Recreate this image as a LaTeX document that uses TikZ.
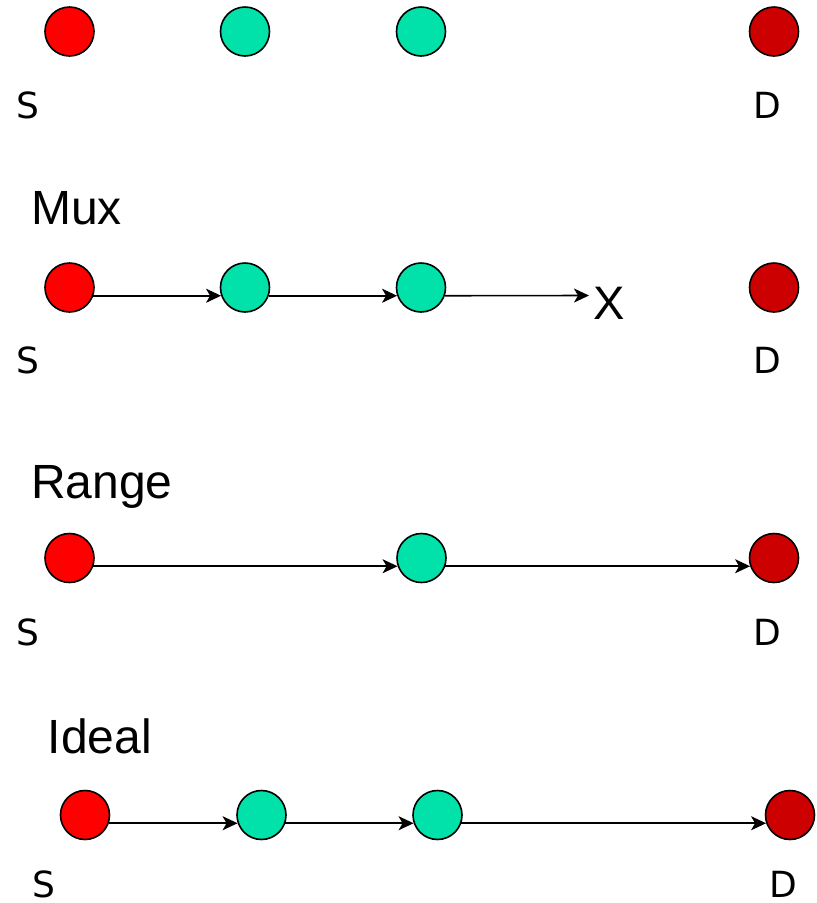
\documentclass[tikz,border=0pt]{standalone}
\usepackage{fontspec}
\setmainfont{Liberation Sans}
\newfontfamily\labelfont{DejaVu Sans}
\usetikzlibrary{arrows.meta}
\definecolor{srcred}{HTML}{FF0000}
\definecolor{relay}{HTML}{00E2AA}
\definecolor{dstred}{HTML}{CC0000}
\tikzset{
  hop/.style={circle, draw=black, line width=1.6pt, minimum size=49pt, inner sep=0pt},
  src/.style={hop, fill=srcred},
  mid/.style={hop, fill=relay},
  dst/.style={hop, fill=dstred},
  endlabel/.style={anchor=base west, inner sep=0pt, text depth=0pt, font=\labelfont\fontsize{36}{40}\selectfont},
  title/.style={anchor=base west, inner sep=0pt, font=\fontsize{48}{54}\selectfont},
  link/.style={line width=1.6pt, -{Stealth[length=15pt, width=14pt, inset=4pt]}}
}
\begin{document}
\begin{tikzpicture}[x=1pt, y=-1pt]
\useasboundingbox (0,0) rectangle (817,903);

% no links
\node[src] (a1) at (69.5,31.5) {};
\node[mid] (a2) at (245,31.5) {};
\node[mid] (a3) at (421,31.5) {};
\node[dst] (a4) at (774,31.5) {};
\node[endlabel] (as) at (16,118) {S};
\node[endlabel] (ad) at (753,118) {D};

% Mux
\node[title] (tmux) at (31,224) {Mux};
\node[src] (b1) at (69.5,287.5) {};
\node[mid] (b2) at (245,287.5) {};
\node[mid] (b3) at (421,287.5) {};
\node[dst] (b4) at (774,287.5) {};
\node[anchor=base west, inner sep=0pt, font=\fontsize{47}{52}\selectfont] (bx) at (593,319) {X};
\coordinate (bend) at (589,295.5);
\node[endlabel] (bs) at (16,373) {S};
\node[endlabel] (bd) at (753,373) {D};
\draw[link] (b1.-19) -- (b2.199);
\draw[link] (b2.-19) -- (b3.199);
\draw[link] (b3.-19) -- (bend);

% Range
\node[title] (trange) at (31,498) {Range};
\node[src] (c1) at (69.5,558) {};
\node[mid] (c3) at (421.5,558) {};
\node[dst] (c4) at (774,558) {};
\node[endlabel] (cs) at (16,645) {S};
\node[endlabel] (cd) at (753,645) {D};
\draw[link] (c1.-19) -- (c3.199);
\draw[link] (c3.-19) -- (c4.199);

% Ideal
\node[title] (tideal) at (47.5,753) {Ideal};
\node[src] (d1) at (85,815) {};
\node[mid] (d2) at (261.5,815) {};
\node[mid] (d3) at (437.5,815) {};
\node[dst] (d4) at (790,815) {};
\node[endlabel] (ds) at (32,897) {S};
\node[endlabel] (dd) at (769,897) {D};
\draw[link] (d1.-19) -- (d2.199);
\draw[link] (d2.-19) -- (d3.199);
\draw[link] (d3.-19) -- (d4.199);
\end{tikzpicture}
\end{document}
